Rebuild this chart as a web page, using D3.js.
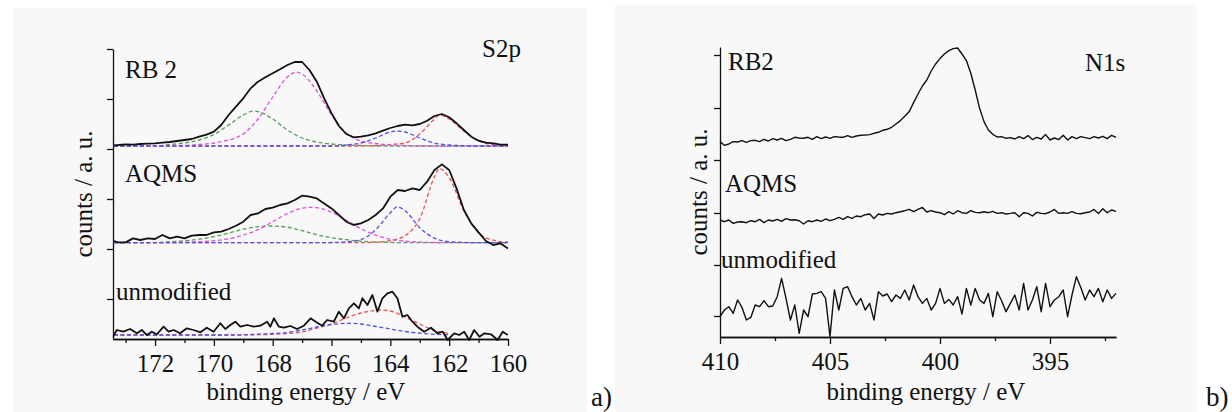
<!DOCTYPE html>
<html>
<head>
<meta charset="utf-8">
<script src="https://cdn.jsdelivr.net/npm/d3@7"></script>
<style>
  body { margin: 0; background: #fff; }
  text { font-family: 'Liberation Serif' !important; }
</style>
</head>
<body>
<script>
/* S2p panel (a) : binding energy / eV and counts above each baseline */
var s2pEnergy = [173.4, 173.25, 173.0, 172.75, 172.5, 172.25, 172.0, 171.75, 171.5, 171.25,
  171.0, 170.75, 170.5, 170.25, 170.0, 169.75, 169.5, 169.25, 169.0, 168.75,
  168.5, 168.25, 168.0, 167.75, 167.5, 167.25, 167.0, 166.75, 166.5, 166.25,
  166.0, 165.75, 165.5, 165.25, 165.0, 164.75, 164.5, 164.25, 164.0, 163.75,
  163.5, 163.25, 163.0, 162.75, 162.5, 162.25, 162.0, 161.75, 161.5, 161.25,
  161.0, 160.75, 160.5, 160.25, 160.0];
var s2pRB2 = [-0.3, 0, 0.7, 0.3, 1, 1.3, 1.7, 2.3, 3, 4,
  5, 6, 8.3, 10.3, 13.3, 20, 30, 38.3, 46.7, 56.7,
  63.3, 67.7, 71.7, 75.7, 80, 83, 83, 75, 63.3, 46.7,
  31.7, 19, 11, 7.7, 8.3, 9.7, 11.7, 14.3, 17, 19,
  20.3, 19.7, 21, 24.3, 29, 31, 27.7, 21.7, 15, 8.3,
  4.3, 2.3, 1.7, 0.3, 0.3];
var s2pAQMS = [1.7, 0.3, 0.3, 4.3, 2.7, 4.3, 3.7, 7.7, 4.3, 6,
  4.3, 7, 7.7, 7.7, 10.3, 11, 13.7, 17, 21, 27.7,
  29.3, 33.7, 35, 37.7, 39.3, 42.7, 47, 46, 44.3, 39.3,
  34.3, 27.7, 21, 17.7, 19.3, 22.7, 27.7, 34.3, 46, 52.7,
  51.7, 54.3, 52.7, 61, 72.7, 78.3, 72.7, 54.3, 32.7, 19.3,
  10.3, 1.7, -2.3, -0.7, -5.7];
var s2pUnmodEnergy = [173.42, 173.30, 173.08, 172.85, 172.62, 172.45, 172.28, 172.11, 171.94, 171.71,
  171.54, 171.37, 171.15, 170.92, 170.69, 170.46, 170.24, 170.01, 169.78, 169.61,
  169.44, 169.27, 169.10, 168.87, 168.65, 168.42, 168.19, 168.08, 167.96, 167.79,
  167.62, 167.40, 167.17, 166.94, 166.71, 166.54, 166.32, 166.15, 165.92, 165.75,
  165.58, 165.41, 165.24, 165.07, 164.95, 164.78, 164.61, 164.44, 164.27, 164.10,
  163.93, 163.76, 163.59, 163.42, 163.25, 163.08, 162.85, 162.62, 162.40, 162.22,
  162.05, 161.83, 161.66, 161.49, 161.32, 161.15, 160.97, 160.80, 160.58, 160.35,
  160.18, 160.01];
var s2pUnmod = [-1.7, 5, 3.3, 6, 1.7, 5, 0, 3.3, 0.7, 8.3,
  3.3, 5, 1.7, 6.7, 5, 2.7, 7.3, 3.3, 11.7, 6,
  10, 13.3, 8.3, 10, 8.3, 9.3, 13.3, 8.3, 16.7, 8.3,
  7.3, 9, 6, 9.3, 16.7, 13.3, 9.3, 15, 13.3, 23.3,
  16.7, 26.7, 31.7, 26.7, 36.7, 30, 40, 23.3, 36.7, 41.7,
  43.3, 36.7, 18.3, 20, 13.3, 8.3, 3.3, 7.3, 1.7, 3.3,
  -5, 1.7, 0, 3.3, -5, 5, -1.7, 1.7, 0.7, -5,
  3.3, 0];
var s2pOffsets = [194, 96.3, 4];
var s2pFitOffsets = [193, 96.3, 4];

// fitted components, [energy, counts]
var rb2Green = [[173.4, 0], [172, 0], [171.5, 1.5], [171, 3], [170.5, 6], [170, 11.5], [169.5, 21], [169, 31],
  [168.65, 35], [168.5, 34.5], [168, 27], [167.5, 16], [167, 8], [166.5, 4], [166, 2], [165.5, 1], [165, 0.5], [164.5, 0], [160, 0]];
var rb2Magenta = [[173.4, 0], [171.5, 0], [171, 0.5], [170.5, 1.5], [170, 3], [169.5, 6], [169, 12], [168.5, 27], [168, 49],
  [167.5, 69], [167.2, 74], [167, 72], [166.5, 55], [166, 31], [165.5, 13], [165, 5], [164.5, 2.5], [164, 1], [163.5, 0.5], [163, 0], [160, 0]];
var rb2Blue = [[173.4, 0], [166, 0], [165.5, 1], [165, 3], [164.5, 8], [164, 14], [163.76, 15], [163.5, 14], [163, 8],
  [162.5, 3], [162, 1], [161.5, 0.3], [161, 0], [160, 0]];
var rb2Red = [[173.4, 0], [165, 0], [164.5, 0.5], [164, 1.5], [163.5, 3], [163, 12], [162.5, 27], [162.34, 31], [162, 27],
  [161.5, 15], [161, 5], [160.5, 1.5], [160, 0.5]];
var aqmsGreen = [[173.4, 0], [172, 0], [171.5, 1], [171, 2], [170.5, 3.5], [170, 6], [169.5, 9.5], [169, 13.5], [168.5, 16],
  [168.08, 16.7], [167.5, 15.5], [167, 12], [166.5, 8], [166, 5], [165.5, 3], [165, 1.5], [164.5, 0.7], [164, 0.3], [163.5, 0], [160, 0]];
var aqmsMagenta = [[173.4, 0], [171.5, 0], [171, 0.5], [170.5, 1], [170, 2], [169.5, 4], [169, 7.5], [168.5, 13], [168, 21],
  [167.5, 29], [167, 34.5], [166.71, 35.3], [166.5, 35], [166, 30.5], [165.5, 22.5], [165, 14], [164.5, 7.5], [164, 3.5],
  [163.5, 1.5], [163, 0.6], [162.5, 0.2], [162, 0], [160, 0]];
var aqmsBlue = [[173.4, 0], [166.5, 0], [166, 0.2], [165.5, 0.8], [165, 3], [164.5, 13], [164, 30], [163.76, 36], [163.5, 32],
  [163, 15], [162.5, 4.5], [162, 1], [161.5, 0.3], [161, 0], [160, 0]];
var aqmsRed = [[173.4, 0], [165, 0], [164.5, 0.5], [164, 2], [163.5, 7], [163, 24], [162.5, 66], [162.34, 74.3], [162, 65],
  [161.5, 32], [161, 10], [160.5, 2.5], [160, 0.5]];
var unmodBlue = [[173.4, 0], [169.5, 0], [169, 0.3], [168.5, 0.8], [168, 1.5], [167.5, 2.5], [167, 5], [166.5, 8], [166, 10.5],
  [165.35, 11.7], [165, 11], [164.5, 8.5], [164, 6], [163.5, 3.5], [163, 1.8], [162.5, 0.7], [162, 0.2]];
var unmodRed = [[173.4, 0], [169, 0], [168.5, 0.3], [168, 0.7], [167.5, 1.5], [167, 3], [166.5, 7], [166, 11], [165.5, 17],
  [165, 22], [164.5, 24.5], [164.33, 25], [164, 24], [163.5, 18], [163, 11], [162.5, 4.5], [162, 1.5]];

/* N1s panel (b) */
var n1sEnergy = [410.0, 409.8, 409.6, 409.4, 409.2, 409.0, 408.8, 408.6, 408.4, 408.2,
  408.0, 407.8, 407.6, 407.4, 407.2, 407.0, 406.8, 406.6, 406.4, 406.2,
  406.0, 405.8, 405.6, 405.4, 405.2, 405.0, 404.8, 404.6, 404.4, 404.2,
  404.0, 403.8, 403.6, 403.4, 403.2, 403.0, 402.8, 402.6, 402.4, 402.2,
  402.0, 401.8, 401.6, 401.4, 401.2, 401.0, 400.8, 400.6, 400.4, 400.2,
  400.0, 399.8, 399.6, 399.4, 399.2, 399.0, 398.8, 398.6, 398.4, 398.2,
  398.0, 397.8, 397.6, 397.4, 397.2, 397.0, 396.8, 396.6, 396.4, 396.2,
  396.0, 395.8, 395.6, 395.4, 395.2, 395.0, 394.8, 394.6, 394.4, 394.2,
  394.0, 393.8, 393.6, 393.4, 393.2, 393.0, 392.8, 392.6, 392.4, 392.2,
  392.0];
var n1sRB2 = [1.7, -2, -0.7, 1.7, 1.3, 2.7, 1, 2.7, 3, 1.7,
  4, 2.3, 4.7, 3.3, 5, 2.7, 4, 6, 5.3, 5,
  6, 4, 6.7, 4.7, 6.3, 5, 6.7, 6.3, 6, 7.7,
  6, 7.3, 8, 8.3, 8.7, 10, 11, 13, 14, 16,
  19.3, 22.7, 27, 31.7, 40.7, 49.3, 57.3, 63.3, 72.3, 79.3,
  84.7, 89.3, 92.7, 94.7, 95.3, 89.3, 82.7, 70, 53.3, 35,
  21.7, 13.3, 9, 6.3, 6.7, 5, 5.7, 4.3, 6.7, 4.7,
  7.7, 3.7, 6, 4.3, 8.7, 3.3, 5.3, 3.7, 8, 3.3,
  6.7, 4.7, 6.7, 5.7, 4.7, 6.7, 5.3, 7, 4.7, 8,
  6];
var n1sAQMS = [1.7, 0, 1.7, -1.7, -0.3, 0, -1, 1, 0, 2.3,
  -1, 1.7, 0.7, 2.3, 0.3, 3, 1.7, 2, 1, -2.3,
  1, 0, 1.7, 0.3, 2.7, 1, 2.3, 4.3, 2.3, 5,
  3.3, 5.7, 5, 7, 7.7, 3.3, 7.7, 6.7, 8.3, 7.7,
  9, 10, 11, 12.3, 10, 12.3, 14.3, 9.7, 11, 9.7,
  9, 7, 10, 7.7, 11, 9, 8.3, 11, 9.3, 9,
  10, 9, 10.3, 8.3, 9, 7.7, 8.3, 9, 5, 9,
  8.3, 5.7, 9.3, 8.3, 8, 9.7, 12.3, 8.3, 9, 8.3,
  10, 8.3, 8, 9, 9.7, 12.3, 8.3, 13, 9, 11.7,
  10.3];
var n1sUnmod = [0, 6.7, 10, 3.3, 16.7, 9.3, -3.3, -0.7, 11.7, 10,
  16, 10, 10.7, 20, 38.3, 18.3, -3.3, 11.7, -16.7, 6.7,
  0, 22.7, 23.3, 25, 18.3, -20, 26.7, 6.7, 28.3, 30,
  20, 11.7, 18.3, 6.7, 13.3, -3.3, 25, 20.7, 22.7, 15,
  21.7, 18.3, 26.7, 16.7, 31.7, 20, 13.3, 18.3, 6.7, 13.3,
  28.3, 13.3, 17.3, 11.7, 20, 2.7, 28.3, 11.7, 28.3, 16.7,
  13.3, 23.3, 0, 25, 16, 5, 13.3, 21.7, 6.7, 33.3,
  6.7, 16.7, 30, 5, 33.3, 10, 16.7, 20, 26.7, 0,
  21.7, 40, 29.3, 16.7, 26.7, 20, 28.3, 15, 26.7, 18.3,
  23.3];
var n1sOffsets = [193.7, 115.3, 20.3];

var sampleNames = ["RB 2", "AQMS", "unmodified"];
var s2pTicks = [172, 170, 168, 166, 164, 162, 160];
var s2pMinor = [173, 171, 169, 167, 165, 163, 161];
var n1sTicks = [410, 405, 400, 395];
var n1sMinor = [407.5, 402.5, 397.5, 392.5];

var fitColors = { green: "#55a055", magenta: "#e050e0", blue: "#5050ee", red: "#ee5050" };
var SERIF = "Liberation Serif";

var W = 1232, H = 412;
var svg = d3.select("body").append("svg")
  .attr("width", W)
  .attr("height", H)
  .attr("font-family", SERIF);

// light grey photo-like panel backgrounds
svg.append("rect").attr("x", 13).attr("y", 8).attr("width", 574).attr("height", 404).attr("fill", "#f8f8f8");
svg.append("rect").attr("x", 615).attr("y", 5).attr("width", 582).attr("height", 407).attr("fill", "#f8f8f8");

var add_text = function(sel, txt, size) {
  return sel.append("text")
    .attr("font-family", SERIF)
    .attr("font-size", size)
    .attr("fill", "#111")
    .text(txt);
};

var draw_panel = function(p) {
  var x = d3.scaleLinear().domain(p.xDomain).range(p.xRange);
  var y = d3.scaleLinear().domain([0, 290]).range(p.yRange);
  var g = svg.append("g");

  var styleAxis = function(sel) {
    sel.attr("font-size", 25).attr("font-family", SERIF);
    sel.selectAll("path, line").attr("stroke", "#111").attr("stroke-width", 1.3);
    sel.selectAll("text").attr("fill", "#111").attr("font-family", SERIF);
  };

  g.append("g")
    .attr("transform", "translate(0," + p.yRange[0] + ")")
    .call(d3.axisBottom(x).tickValues(p.minor).tickSize(4).tickSizeOuter(0).tickFormat(""))
    .call(styleAxis);
  g.append("g")
    .attr("transform", "translate(0," + p.yRange[0] + ")")
    .call(d3.axisBottom(x).tickValues(p.major).tickSize(7).tickPadding(8).tickSizeOuter(0).tickFormat(d3.format("d")))
    .call(styleAxis);
  g.append("g")
    .attr("transform", "translate(" + p.xRange[0] + ",0)")
    .call(d3.axisLeft(y).tickValues(p.yTicks).tickSize(6).tickSizeOuter(0).tickFormat(""))
    .call(styleAxis);

  // fitted components (dashed)
  var fitLine = function(off) {
    return d3.line()
      .x(function(d) { return x(d[0]); })
      .y(function(d) { return y(d[1] + off); })
      .curve(d3.curveMonotoneX);
  };
  p.fits.forEach(function(f) {
    g.append("path")
      .datum(f.data)
      .attr("d", fitLine(f.offset))
      .attr("fill", "none")
      .attr("stroke", fitColors[f.color])
      .attr("stroke-width", 1.3)
      .attr("stroke-dasharray", "4,2.5");
  });

  // measured spectra
  p.traces.forEach(function(t) {
    var line = d3.line()
      .x(function(d) { return x(d[0]); })
      .y(function(d) { return y(d[1] + t.offset); });
    g.append("path")
      .datum(d3.zip(t.energy, t.counts))
      .attr("d", line)
      .attr("fill", "none")
      .attr("stroke", "#111")
      .attr("stroke-width", p.lineWidth)
      .attr("stroke-linejoin", "round");
  });

  p.labels.forEach(function(l) {
    add_text(g, l.text, 25).attr("x", l.x).attr("y", l.y);
  });

  add_text(g, "binding energy / eV", 25)
    .attr("x", p.titleX).attr("y", 400)
    .attr("text-anchor", "middle");
  add_text(g, "counts / a. u.", 25)
    .attr("transform", "translate(" + p.yTitleX + "," + ((p.yRange[0] + p.yRange[1]) / 2) + ") rotate(-90)")
    .attr("text-anchor", "middle");
};

draw_panel({
  xDomain: [173.43, 160], xRange: [113, 508], yRange: [339, 49],
  yTicks: [40, 90, 140, 190, 240, 290],
  major: s2pTicks, minor: s2pMinor,
  lineWidth: 1.8,
  traces: [
    { energy: s2pEnergy, counts: s2pRB2, offset: s2pOffsets[0] },
    { energy: s2pEnergy, counts: s2pAQMS, offset: s2pOffsets[1] },
    { energy: s2pUnmodEnergy, counts: s2pUnmod, offset: s2pOffsets[2] }
  ],
  fits: [
    { data: rb2Green, color: "green", offset: s2pFitOffsets[0] },
    { data: rb2Red, color: "red", offset: s2pFitOffsets[0] },
    { data: rb2Magenta, color: "magenta", offset: s2pFitOffsets[0] },
    { data: rb2Blue, color: "blue", offset: s2pFitOffsets[0] },
    { data: aqmsGreen, color: "green", offset: s2pFitOffsets[1] },
    { data: aqmsRed, color: "red", offset: s2pFitOffsets[1] },
    { data: aqmsMagenta, color: "magenta", offset: s2pFitOffsets[1] },
    { data: aqmsBlue, color: "blue", offset: s2pFitOffsets[1] },
    { data: unmodRed, color: "red", offset: s2pFitOffsets[2] },
    { data: unmodBlue, color: "blue", offset: s2pFitOffsets[2] }
  ],
  labels: [
    { text: sampleNames[0], x: 125, y: 78 },
    { text: sampleNames[1], x: 125, y: 182 },
    { text: sampleNames[2], x: 116, y: 300 },
    { text: "S2p", x: 482, y: 57 }
  ],
  titleX: 306, yTitleX: 92
});

draw_panel({
  xDomain: [410, 392], xRange: [720, 1116], yRange: [337, 47],
  yTicks: [21, 72, 124, 177, 229, 282],
  major: n1sTicks, minor: n1sMinor,
  lineWidth: 1.4,
  traces: [
    { energy: n1sEnergy, counts: n1sRB2, offset: n1sOffsets[0] },
    { energy: n1sEnergy, counts: n1sAQMS, offset: n1sOffsets[1] },
    { energy: n1sEnergy, counts: n1sUnmod, offset: n1sOffsets[2] }
  ],
  fits: [],
  labels: [
    { text: "RB2", x: 728, y: 70 },
    { text: sampleNames[1], x: 725, y: 192 },
    { text: sampleNames[2], x: 721, y: 268 },
    { text: "N1s", x: 1085, y: 71 }
  ],
  titleX: 926, yTitleX: 707
});

add_text(svg, "a)", 27).attr("x", 591).attr("y", 406);
add_text(svg, "b)", 27).attr("x", 1206).attr("y", 406);
</script>
</body>
</html>
